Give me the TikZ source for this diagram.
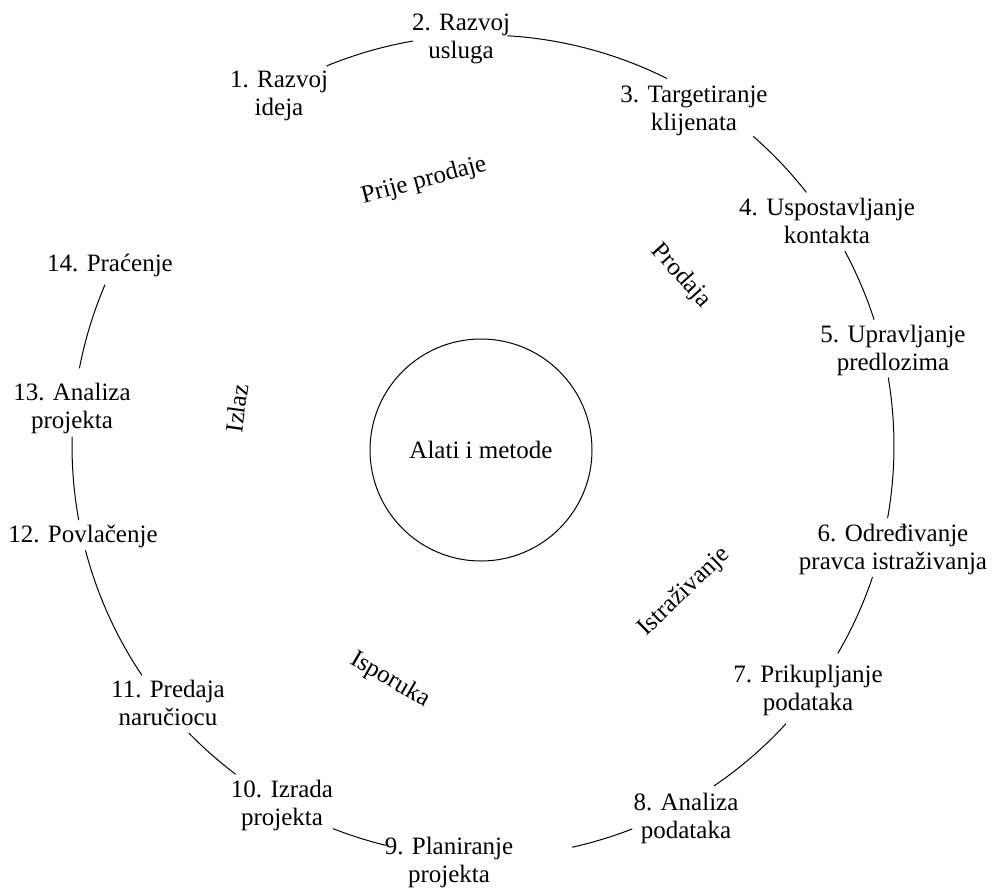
\documentclass[tikz,border=0pt]{standalone}
\usepackage{fontspec}
\setmainfont{Liberation Serif}
\begin{document}
\begin{tikzpicture}[x=1pt,y=-1pt,
  lbl/.style={align=center, font=\fontsize{25}{27.3}\selectfont, inner sep=0pt, anchor=base},
  phase/.style={font=\fontsize{25}{27.3}\selectfont, inner sep=0pt},
  ring/.style={line width=1pt}]
\useasboundingbox (0,0) rectangle (993,887);
\coordinate (O) at (483,446);
% step labels (positioned by the baseline of their last line)
\node[lbl] (n1) at (279,115) {1. Razvoj\\ideja};
\node[lbl] (n2) at (461,58) {2. Razvoj\\usluga};
\node[lbl] (n3) at (694,130) {3. Targetiranje\\klijenata};
\node[lbl] (n4) at (827,243) {4. Uspostavljanje\\kontakta};
\node[lbl] (n5) at (893,370) {5. Upravljanje\\predlozima};
\node[lbl] (n6) at (893,569) {6. Određivanje\\pravca istraživanja};
\node[lbl] (n7) at (808,710) {7. Prikupljanje\\podataka};
\node[lbl] (n8) at (686,838) {8. Analiza\\podataka};
\node[lbl] (n9) at (449,882) {9. Planiranje\\projekta};
\node[lbl] (n10) at (282,825) {10. Izrada\\projekta};
\node[lbl] (n11) at (168,725) {11. Predaja\\naručiocu};
\node[lbl] (n12) at (83,542) {12. Povlačenje};
\node[lbl] (n13) at (72,428) {13. Analiza\\projekta};
\node[lbl] (n14) at (110,271) {14. Praćenje};
% phases
\node[phase, rotate=15] (p1) at (424,181) {Prije prodaje};
\node[phase, rotate=-48] (p2) at (681,276) {Prodaja};
\node[phase, rotate=44] (p3) at (684,592) {Istraživanje};
\node[phase, rotate=-30] (p4) at (390,680) {Isporuka};
\node[phase, rotate=82] (p5) at (237,408) {Izlaz};
% centre
\node[draw, ring, circle, minimum size=222pt, inner sep=0pt, font=\fontsize{25}{27.3}\selectfont] (tools) at (481,450) {Alati i metode};
% ring arcs between consecutive steps
\foreach \a/\b in {112.4/99.8, 86.6/63.4, 48.9/38.1, 28.3/17.9, 9.6/-10.1,
  -18.6/-30.3, -42.5/-55.8, -68.7/-77.5, -103.7/-111.4, -127/-135.7,
  -146.1/-165.3, -169.6/-181.3, -190.9/-203.1}
  \draw[ring] (O) ++(-\a:411) arc[start angle=-\a, end angle=-\b, radius=411];
\end{tikzpicture}
\end{document}
